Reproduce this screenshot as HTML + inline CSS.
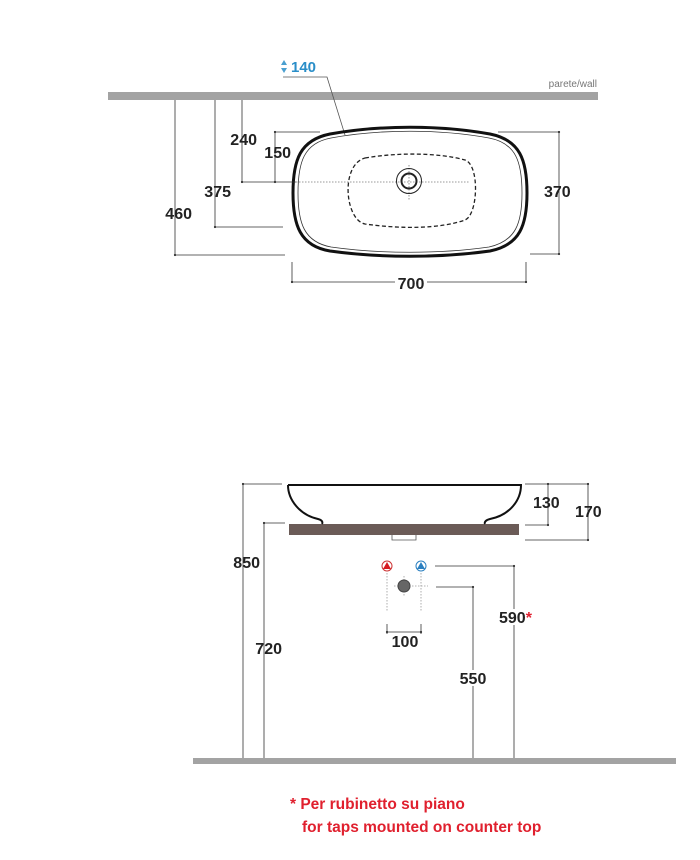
<!DOCTYPE html>
<html><head><style>html,body{margin:0;padding:0;background:#fff}svg{display:block}</style></head><body>
<svg width="700" height="860" viewBox="0 0 700 860" xmlns="http://www.w3.org/2000/svg" font-family="Liberation Sans, sans-serif">
<defs><marker id="d" markerWidth="4" markerHeight="4" refX="2" refY="2"><circle cx="2" cy="2" r="1.4" fill="#333"/></marker></defs>
<!-- TOP VIEW -->
<rect x="108" y="92" width="490" height="8" fill="#a3a3a3"/>
<text x="597" y="87" font-size="10" fill="#777" text-anchor="end">parete/wall</text>
<polygon points="284,60 287,65 281,65" fill="#4a9fd0"/><polygon points="284,73 287,68 281,68" fill="#4a9fd0"/>
<text x="291" y="72" font-size="15" font-weight="bold" fill="#2a8ec8">140</text>
<polyline points="283,77 327,77 345,135" fill="none" stroke="#555" stroke-width="0.8"/>
<path d="M330,134 C380,125 440,125 490,134 C520,140 527,160 527,193 C527,225 520,245 490,251 C440,258 380,258 330,251 C300,246 293,225 293,193 C293,160 300,140 330,134 Z" fill="none" stroke="#111" stroke-width="3"/>
<path d="M331,138 C380,129 440,129 489,138 C516,143 522,162 522,193 C522,223 516,241 489,247 C440,254 380,254 331,247 C304,242 298,223 298,193 C298,162 304,143 331,138 Z" fill="none" stroke="#333" stroke-width="0.8"/>
<path d="M365,158 C400,152 440,153 465,160 C480,165 478,215 465,220 C440,229 400,229 365,224 C345,220 340,165 365,158 Z" fill="none" stroke="#222" stroke-width="1.3" stroke-dasharray="4,2.5"/>
<line x1="296" y1="182" x2="470" y2="182" stroke="#777" stroke-width="0.8" stroke-dasharray="1.5,1.5"/>
<line x1="409" y1="165" x2="409" y2="200" stroke="#777" stroke-width="0.8" stroke-dasharray="1.5,1.5"/>
<circle cx="409" cy="181" r="12.5" fill="none" stroke="#222" stroke-width="1"/>
<circle cx="409" cy="181" r="7.5" fill="none" stroke="#222" stroke-width="2"/>
<g stroke="#333" stroke-width="0.8" fill="none">
<polyline points="175,100 175,255 285,255" marker-mid="url(#d)"/>
<polyline points="215,100 215,227 283,227" marker-mid="url(#d)"/>
<polyline points="242,100 242,182 296,182" marker-mid="url(#d)"/>
<polyline points="275,132 275,182" marker-start="url(#d)" marker-end="url(#d)"/>
<line x1="275" y1="132" x2="320" y2="132"/>
<line x1="498" y1="132" x2="559" y2="132"/><line x1="530" y1="254" x2="559" y2="254"/>
<line x1="559" y1="132" x2="559" y2="254" marker-start="url(#d)" marker-end="url(#d)"/>
<line x1="292" y1="262" x2="292" y2="282"/><line x1="526" y1="262" x2="526" y2="282"/>
<line x1="292" y1="282" x2="526" y2="282" marker-start="url(#d)" marker-end="url(#d)"/>
</g>
<g font-size="16" font-weight="bold" fill="#222">
<text x="192" y="219" text-anchor="end">460</text>
<text x="231" y="197" text-anchor="end">375</text>
<text x="257" y="145" text-anchor="end">240</text>
<text x="291" y="158" text-anchor="end">150</text>
<text x="544" y="197">370</text>
<rect x="395" y="274" width="32" height="14" fill="#fff"/>
<text x="411" y="289" text-anchor="middle">700</text>
</g>
<!-- SIDE VIEW -->
<rect x="193" y="758" width="483" height="6" fill="#a3a3a3"/>
<rect x="289" y="524" width="230" height="11" fill="#6b5b57"/>
<path d="M392,535 v5 h24 v-5" fill="none" stroke="#555" stroke-width="0.8"/>
<path d="M288,485 L521,485 C521,500 510,515 490,519 C486,520 484,522 485,524 M288,485 C288,500 300,515 318,519 C322,520 323,522 322,524" fill="none" stroke="#111" stroke-width="2"/>
<g stroke="#333" stroke-width="0.8" fill="none">
<polyline points="282,484 243,484 243,758" marker-mid="url(#d)"/>
<polyline points="285,523 264,523 264,758" marker-mid="url(#d)"/>
<line x1="525" y1="484" x2="588" y2="484"/><line x1="525" y1="540" x2="588" y2="540"/>
<line x1="525" y1="525" x2="548" y2="525"/>
<line x1="548" y1="484" x2="548" y2="525" marker-start="url(#d)" marker-end="url(#d)"/>
<line x1="588" y1="484" x2="588" y2="540" marker-start="url(#d)" marker-end="url(#d)"/>
<polyline points="435,566 514,566 514,758" marker-mid="url(#d)"/>
<polyline points="436,587 473,587 473,758" marker-mid="url(#d)"/>
<line x1="387" y1="624" x2="387" y2="634"/><line x1="421" y1="624" x2="421" y2="634"/>
<line x1="387" y1="632" x2="421" y2="632" marker-start="url(#d)" marker-end="url(#d)"/>
</g>
<g stroke="#999" stroke-width="0.8" stroke-dasharray="1.5,1.5">
<line x1="387" y1="573" x2="387" y2="612"/><line x1="421" y1="573" x2="421" y2="612"/>
<line x1="394" y1="586" x2="428" y2="586"/><line x1="404" y1="576" x2="404" y2="596"/>
</g>
<circle cx="387" cy="566" r="5" fill="#fff" stroke="#c33" stroke-width="1"/><polygon points="387,562 391,569 383,569" fill="#d71920"/>
<circle cx="421" cy="566" r="5" fill="#fff" stroke="#2a7fc0" stroke-width="1"/><polygon points="421,562 425,569 417,569" fill="#2a7fc0"/>
<circle cx="404" cy="586" r="6" fill="#666" stroke="#444"/>
<g font-size="16" font-weight="bold" fill="#222">
<text x="260" y="568" text-anchor="end">850</text>
<text x="282" y="654" text-anchor="end">720</text>
<text x="533" y="508">130</text>
<text x="575" y="517">170</text>
<rect x="390" y="634" width="30" height="14" fill="#fff"/>
<text x="405" y="647" text-anchor="middle">100</text>
<rect x="498" y="609" width="38" height="16" fill="#fff"/>
<text x="499" y="623">590<tspan fill="#e02030">*</tspan></text>
<rect x="456" y="670" width="34" height="16" fill="#fff"/>
<text x="473" y="684" text-anchor="middle">550</text>
</g>
<g font-size="15.5" font-weight="bold" fill="#e0202e">
<text x="290" y="809">* Per rubinetto su piano</text>
<text x="302" y="832">for taps mounted on counter top</text>
</g>
</svg>
</body></html>
